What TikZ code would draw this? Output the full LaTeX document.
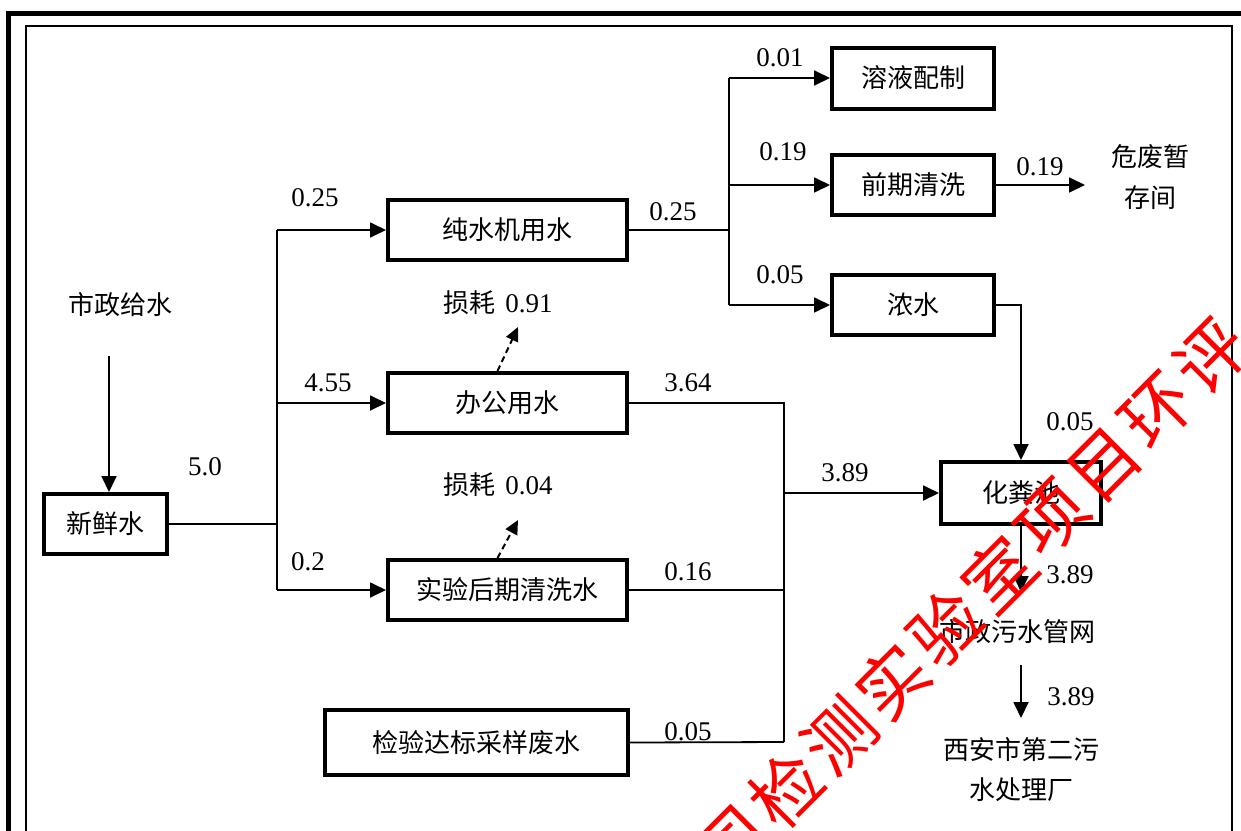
\documentclass[tikz,border=0pt]{standalone}
\usepackage{fontspec}
\setmainfont{Liberation Serif}
\newfontfamily\cjk{Noto Sans CJK SC}
\usetikzlibrary{arrows.meta,calc}
\begin{document}
\begin{tikzpicture}[x=1pt,y=-1pt,
 box/.style={draw,line width=4pt,inner sep=0pt,font=\cjk\fontsize{26}{30}\selectfont},
 lbl/.style={inner sep=0pt,font=\fontsize{27}{30}\selectfont},
 txt/.style={inner sep=0pt,font=\cjk\fontsize{26}{30}\selectfont},
 conn/.style={line width=1.8pt},
 arr/.style={conn,-{Triangle[length=16pt,width=15pt]}},
 darr/.style={line width=2pt,dash pattern=on 6pt off 4pt,-{Triangle[length=14pt,width=13pt]}},
 wm/.style={text=red,rotate=45,inner sep=0pt,font=\cjk\fontsize{70}{74}\selectfont}]
\useasboundingbox (0,0) rectangle (1241,830);
\fill[white] (0,0) rectangle (1241,830);
% frames
\draw[line width=5pt] (8.5,840) -- (8.5,13.5) -- (1250,13.5);
\draw[line width=2.5pt] (26,840) -- (26,26) -- (1232,26) -- (1232,840);
% boxes
\node[box,minimum width=123pt,minimum height=60pt] (fresh) at (105.5,524) {新鲜水};
\node[box,minimum width=239pt,minimum height=60pt] (pure) at (507.5,230) {纯水机用水};
\node[box,minimum width=239pt,minimum height=60pt] (office) at (507.5,403) {办公用水};
\node[box,minimum width=239pt,minimum height=60pt] (lab) at (507.5,590) {实验后期清洗水};
\node[box,minimum width=303pt,minimum height=65pt] (samp) at (476.5,742.5) {检验达标采样废水};
\node[box,minimum width=162pt,minimum height=61pt] (sol) at (913,78) {溶液配制};
\node[box,minimum width=162pt,minimum height=60pt] (pre) at (913,185) {前期清洗};
\node[box,minimum width=162pt,minimum height=60pt] (conc) at (913,305) {浓水};
\node[box,minimum width=160pt,minimum height=62pt] (septic) at (1021,493) {化粪池};
% texts
\node[txt] (src) at (120,305) {市政给水};
\node[txt] (loss1) at (498,303) {损耗\hspace{10pt}{\rmfamily\fontsize{27}{30}\selectfont 0.91}};
\node[txt] (loss2) at (498,485) {损耗\hspace{10pt}{\rmfamily\fontsize{27}{30}\selectfont 0.04}};
\node[txt] (haz1) at (1150,157) {危废暂};
\node[txt] (haz2) at (1150,198) {存间};
\node[txt] (net) at (1017,632) {市政污水管网};
\node[txt] (plant1) at (1021,750) {西安市第二污};
\node[txt] (plant2) at (1021,790) {水处理厂};
% coordinates
\coordinate (s0) at (109,356);
\coordinate (t1) at (277,230);
\coordinate (t2) at (277,590);
\coordinate (j1) at (729,230);
\coordinate (hz) at (1085,185);
\coordinate (j2) at (784,493);
\coordinate (v1) at (784,403);
\coordinate (v2) at (784,742);
\coordinate (a0) at (1021,592);
\coordinate (a1) at (1021,665);
\coordinate (a2) at (1021,718);
\coordinate (d1) at (518,327);
\coordinate (d2) at (518,520);
% connectors
\draw[arr] (s0) -- (s0 |- fresh.north);
\draw[conn] (fresh.east) -- (fresh.east -| t1);
\draw[conn] (t1) -- (t2);
\draw[arr] (t1) -- (pure.west);
\draw[arr] (office.west -| t1) -- (office.west);
\draw[arr] (t2) -- (lab.west);
\draw[conn] (pure.east) -- (j1);
\draw[conn] (sol.west -| j1) -- (conc.west -| j1);
\draw[arr] (sol.west -| j1) -- (sol.west);
\draw[arr] (pre.west -| j1) -- (pre.west);
\draw[arr] (conc.west -| j1) -- (conc.west);
\draw[arr] (pre.east) -- (hz);
\draw[arr] (conc.east) -| (septic.north);
\draw[conn] (office.east) -- (v1) -- (v2);
\draw[conn] (lab.east) -- (lab.east -| v1);
\draw[conn] (samp.east) -- (v2);
\draw[arr] (j2) -- (septic.west);
\draw[arr] (septic.south) -- (a0);
\draw[arr] (a1) -- (a2);
\draw[darr] ([xshift=-10pt]office.north) -- (d1);
\draw[darr] ([xshift=-10pt]lab.north) -- (d2);
% labels
\node[lbl] at (315,198) {0.25};
\node[lbl] at (328,383) {4.55};
\node[lbl] at (308,562) {0.2};
\node[lbl] at (205,467) {5.0};
\node[lbl] at (673,212) {0.25};
\node[lbl] at (780,58) {0.01};
\node[lbl] at (783,152) {0.19};
\node[lbl] at (780,275) {0.05};
\node[lbl] at (1040,167) {0.19};
\node[lbl] at (688,383) {3.64};
\node[lbl] at (688,572) {0.16};
\node[lbl] at (688,732) {0.05};
\node[lbl] at (845,473) {3.89};
\node[lbl] at (1070,422) {0.05};
\node[lbl] at (1070,575) {3.89};
\node[lbl] at (1071,697) {3.89};
% watermark
\foreach \ch [count=\i from 0] in {司,检,测,实,验,室,项,目,环,评}
  \node[wm] at (733+53.1*\i, 844-54.1*\i) {\ch};
\end{tikzpicture}
\end{document}
